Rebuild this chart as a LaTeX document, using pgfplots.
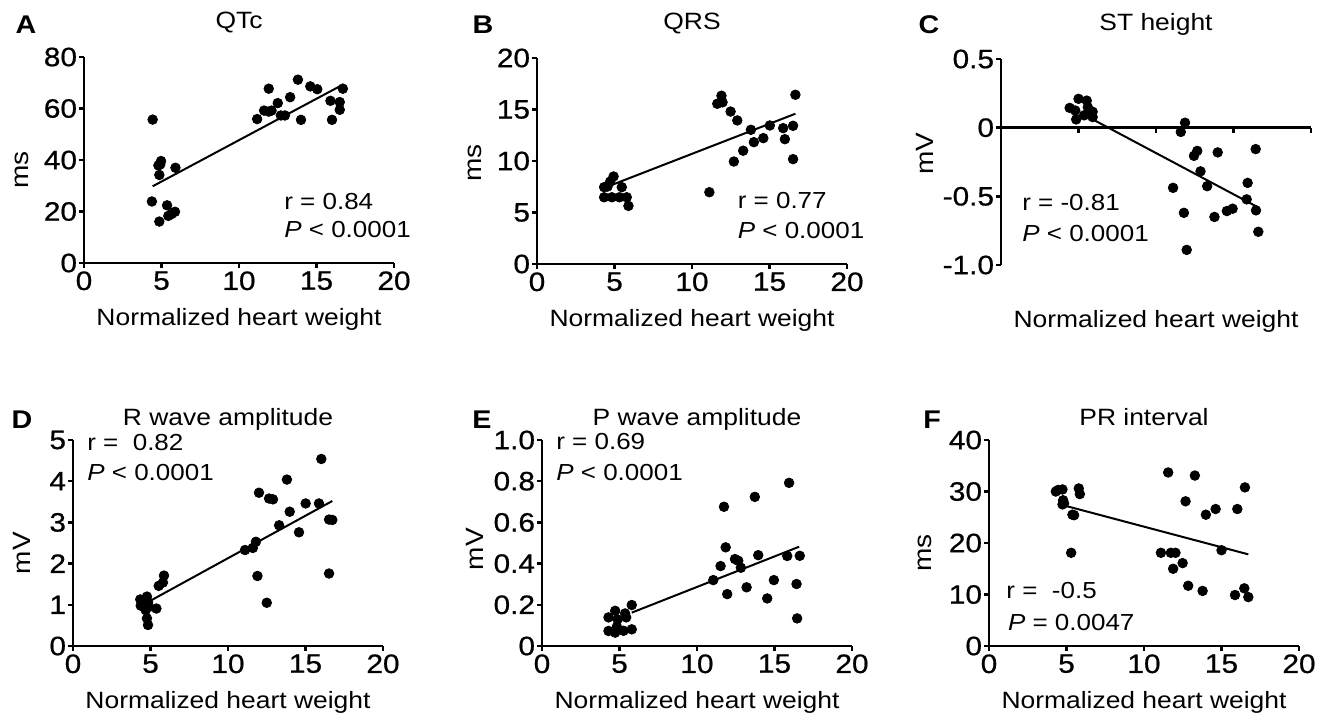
\documentclass[border=0pt]{standalone}
\usepackage{fontspec}
\setmainfont{Liberation Sans}[FakeStretch=1.12]
\newfontfamily\tickfont{Liberation Sans}[FakeStretch=1.12, RawFeature={embolden=0.7}]
\usepackage{pgfplots}
\pgfplotsset{compat=1.18}

\pgfplotsset{
  panel/.style={
    scale only axis, width=155pt, height=103pt, anchor=south west,
    axis lines*=left, xmin=0, xmax=20, xtick={0,5,10,15,20},
    axis line style={line width=1.2pt, black},
    tick style={line width=1.2pt, black}, major tick length=2.5pt, tick align=outside,
    tick label style={font=\tickfont\fontsize{13.3}{14}\selectfont},
    yticklabel style={inner xsep=0.8pt},
    xticklabel style={inner ysep=1.5pt},
    /pgf/number format/assume math mode=true,
    xlabel={Normalized heart weight},
    xlabel style={at={(axis description cs:0.5,0)}, anchor=base, yshift=-31pt,
      font=\fontsize{11.8}{14}\selectfont},
    ylabel style={anchor=center, font=\fontsize{12.5}{14}\selectfont},
    title style={at={(axis description cs:0.5,1)}, anchor=base,
      font=\fontsize{11.8}{14}\selectfont},
    clip=false,
  },
  dots/.style={only marks, mark=*, mark size=2.4pt, black},
  fit/.style={no marks, black, line width=1pt},
}
\newcommand{\stat}{\fontsize{11.6}{14}\selectfont}
\newcommand{\letter}{\bfseries\fontsize{12.8}{14}\selectfont}

\begin{document}
\begin{tikzpicture}
\useasboundingbox (0pt,0pt) rectangle (662.5pt,-356.5pt);

% A: QTc
\begin{axis}[panel, at={(42pt,-131.5pt)}, ymin=0, ymax=80, ytick={0,20,40,60,80},
  ylabel={ms}, ylabel style={at={(axis description cs:-0.2,0.45)}},
  title={QTc}, title style={yshift=8.5pt}]
\addplot[dots] coordinates {
 (4.43,55.7) (4.92,38.3) (4.97,39.6) (4.80,37.9) (4.86,34.2) (5.90,37.0)
 (4.38,23.9) (5.36,22.4) (4.86,16.1) (5.44,18.3) (5.65,19.0) (5.87,19.9)
 (11.17,55.9) (11.62,59.2) (11.92,58.8) (12.10,59.2) (11.92,67.7) (12.50,62.1)
 (12.70,57.3) (12.96,57.3) (13.30,64.4) (13.80,71.2) (14.00,55.6) (14.60,68.6)
 (15.05,67.5) (15.90,63.0) (16.00,55.6) (16.50,62.5) (16.50,59.5) (16.70,67.7)
};
\addplot[fit] coordinates {(4.43,29.8) (16.74,69.4)};
\node[anchor=west, inner sep=0pt, font=\stat] at (axis cs:12.9,23.8) {r = 0.84};
\node[anchor=west, inner sep=0pt, font=\stat] at (axis cs:12.9,12.9) {\textit{P} < 0.0001};
\end{axis}

% B: QRS
\begin{axis}[panel, at={(268.5pt,-132pt)}, ymin=0, ymax=20, ytick={0,5,10,15,20},
  ylabel={ms}, ylabel style={at={(axis description cs:-0.2,0.49)}},
  title={QRS}, title style={yshift=8.5pt}]
\addplot[dots] coordinates {
 (4.33,7.46) (4.33,6.48) (4.55,7.52) (4.72,8.0) (4.94,8.5) (4.83,6.48)
 (5.32,6.48) (5.47,7.46) (5.79,6.48) (5.90,5.64)
 (11.12,6.97) (11.63,15.56) (11.90,16.34) (11.97,15.7) (12.49,14.8) (12.92,13.94)
 (12.70,9.95) (13.30,11.0) (13.80,13.03) (13.99,11.83) (14.60,12.22) (15.02,13.45)
 (15.88,13.19) (15.99,12.12) (16.52,13.42) (16.52,10.18) (16.67,16.43)
};
\addplot[fit] coordinates {(4.83,7.68) (16.67,14.59)};
\node[anchor=west, inner sep=0pt, font=\stat] at (axis cs:12.93,6.2) {r = 0.77};
\node[anchor=west, inner sep=0pt, font=\stat] at (axis cs:12.93,3.3) {\textit{P} < 0.0001};
\end{axis}

% C: ST height
\begin{axis}[panel, at={(500.5pt,-132.5pt)}, axis x line*=middle, axis y line*=left,
  ymin=-1.0, ymax=0.5, ytick={-1,-0.5,0,0.5}, yticklabels={-1.0,-0.5,0,0.5},
  xtick={5,10,15,20}, xticklabels={},
  ylabel={mV}, ylabel style={at={(axis description cs:-0.244,0.54)}},
  title={ST height}, title style={yshift=8.5pt}]
\addplot[dots] coordinates {
 (4.43,0.144) (4.79,0.125) (4.85,0.06) (5.0,0.21) (5.36,0.09) (5.53,0.197)
 (5.6,0.149) (5.91,0.116) (5.91,0.077)
 (11.87,0.036) (11.6,-0.031) (11.1,-0.438) (11.8,-0.62) (11.98,-0.89) (12.45,-0.205)
 (12.66,-0.169) (12.87,-0.318) (13.3,-0.426) (13.98,-0.18) (13.77,-0.65) (14.57,-0.607)
 (14.94,-0.59) (15.91,-0.402) (15.85,-0.522) (16.43,-0.156) (16.45,-0.602) (16.6,-0.758)
};
\addplot[fit] coordinates {(5.64,0.077) (16.55,-0.578)};
\node[anchor=west, inner sep=0pt, font=\stat] at (axis cs:1.35,-0.545) {r = -0.81};
\node[anchor=west, inner sep=0pt, font=\stat] at (axis cs:1.35,-0.769) {\textit{P} < 0.0001};
\end{axis}

% D: R wave amplitude
\begin{axis}[panel, at={(36.5pt,-323pt)}, ymin=0, ymax=5, ytick={0,1,2,3,4,5},
  ylabel={mV}, ylabel style={at={(axis description cs:-0.165,0.45)}},
  title={R wave amplitude}, title style={yshift=1.5pt}]
\addplot[dots] coordinates {
 (4.34,1.13) (4.37,0.98) (4.77,1.2) (4.84,1.06) (4.69,0.87) (4.77,0.67)
 (4.84,0.51) (5.38,0.91) (4.90,0.95) (5.53,1.46) (5.80,1.54) (5.87,1.71)
 (11.1,2.33) (11.6,2.38) (11.8,2.53) (11.9,1.7) (12.0,3.72) (12.5,1.05)
 (12.65,3.58) (12.9,3.56) (13.3,2.93) (13.8,4.04) (13.98,3.26) (14.58,2.76)
 (15.01,3.46) (15.87,3.46) (16.02,4.54) (16.52,3.07) (16.73,3.06) (16.52,1.76)
};
\addplot[fit] coordinates {(4.95,1.09) (16.73,3.52)};
\node[anchor=west, inner sep=0pt, font=\stat] at (axis cs:0.9,4.95) {r =\ \ 0.82};
\node[anchor=west, inner sep=0pt, font=\stat] at (axis cs:0.9,4.2) {\textit{P} < 0.0001};
\end{axis}

% E: P wave amplitude
\begin{axis}[panel, at={(271pt,-323pt)}, ymin=0, ymax=1.0, ytick={0,0.2,0.4,0.6,0.8,1.0},
  yticklabels={0,0.2,0.4,0.6,0.8,1.0},
  ylabel={mV}, ylabel style={at={(axis description cs:-0.216,0.47)}},
  title={P wave amplitude}, title style={yshift=1.5pt}]
\addplot[dots] coordinates {
 (4.29,0.139) (4.29,0.073) (4.72,0.171) (4.72,0.065) (4.83,0.094) (4.87,0.129)
 (5.36,0.158) (5.43,0.139) (5.26,0.074) (5.79,0.081) (5.79,0.199)
 (11.05,0.32) (11.52,0.388) (11.74,0.676) (11.85,0.479) (11.95,0.252) (12.45,0.422)
 (12.66,0.414) (12.83,0.38) (13.2,0.285) (13.73,0.724) (13.95,0.441) (14.53,0.231)
 (14.96,0.32) (15.82,0.437) (15.94,0.792) (16.42,0.301) (16.46,0.134) (16.63,0.438)
};
\addplot[fit] coordinates {(5.79,0.162) (16.59,0.482)};
\node[anchor=west, inner sep=0pt, font=\stat] at (axis cs:0.9,0.993) {r = 0.69};
\node[anchor=west, inner sep=0pt, font=\stat] at (axis cs:0.9,0.842) {\textit{P} < 0.0001};
\end{axis}

% F: PR interval
\begin{axis}[panel, at={(494.5pt,-323pt)}, ymin=0, ymax=40, ytick={0,10,20,30,40},
  ylabel={ms}, ylabel style={at={(axis description cs:-0.206,0.45)}},
  title={PR interval}, title style={yshift=1.5pt}]
\addplot[dots] coordinates {
 (4.31,30.0) (4.46,30.3) (4.74,30.4) (4.78,28.3) (4.84,27.7) (4.74,27.5)
 (5.38,25.5) (5.49,25.4) (5.30,18.1) (5.79,30.6) (5.86,29.5)
 (11.09,18.1) (11.56,33.7) (11.73,18.1) (12.03,18.1) (11.88,15.0) (12.49,16.1)
 (12.68,28.1) (12.85,11.7) (13.28,33.1) (13.78,10.7) (13.99,25.5) (14.62,26.6)
 (15.0,18.6) (15.87,9.9) (16.02,26.6) (16.47,11.2) (16.51,30.8) (16.73,9.5)
};
\addplot[fit] coordinates {(4.46,27.6) (16.73,17.8)};
\node[anchor=west, inner sep=0pt, font=\stat] at (axis cs:1.1,10.7) {r =\ \ -0.5};
\node[anchor=west, inner sep=0pt, font=\stat] at (axis cs:1.2,4.66) {\textit{P} = 0.0047};
\end{axis}

\node[anchor=base, font=\letter] at (13pt,-16.5pt) {A};
\node[anchor=base, font=\letter] at (241.5pt,-16.5pt) {B};
\node[anchor=base, font=\letter] at (464.5pt,-16.5pt) {C};
\node[anchor=base, font=\letter] at (11pt,-214pt) {D};
\node[anchor=base, font=\letter] at (241pt,-214pt) {E};
\node[anchor=base, font=\letter] at (466pt,-214pt) {F};
\end{tikzpicture}
\end{document}
